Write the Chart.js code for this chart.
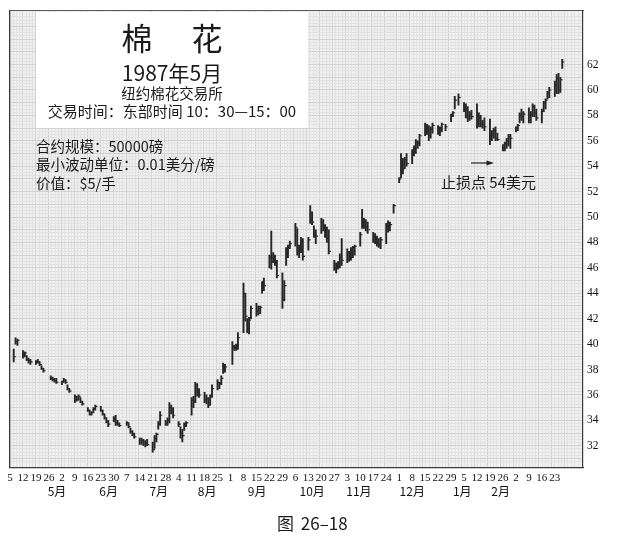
<!DOCTYPE html>
<html>
<head>
<meta charset="utf-8">
<script src="https://cdn.jsdelivr.net/npm/chart.js@4.4.1/dist/chart.umd.min.js"></script>
<style>
html,body{margin:0;padding:0;background:#fff;}
#wrap{position:relative;width:619px;height:536px;overflow:hidden;font-family:"Noto Sans CJK SC","Noto Sans",sans-serif;color:#1a1a1a;}
#wrap canvas{position:absolute;left:0;top:0;}
.ov{position:absolute;white-space:nowrap;line-height:1;}
#titlebox{position:absolute;left:36px;top:12px;width:272px;height:116px;background:#fff;}
.ctr{left:0;width:272px;text-align:center;}
</style>
</head>
<body>
<div id="wrap">
  <canvas id="c" width="619" height="536"></canvas>
  <div id="titlebox">
    <div class="ov ctr" style="top:9px;font-size:31px;letter-spacing:4px;padding-left:4px;box-sizing:border-box;">棉　花</div>
    <div class="ov ctr" style="top:49.5px;font-size:21px;">1987年5月</div>
    <div class="ov ctr" style="top:74px;font-size:14.5px;">纽约棉花交易所</div>
    <div class="ov ctr" style="top:90.5px;font-size:15px;">交易时间：东部时间 10：30—15：00</div>
  </div>
  <div class="ov" style="left:36px;top:138.5px;font-size:14.5px;">合约规模：50000磅</div>
  <div class="ov" style="left:36px;top:157px;font-size:14.5px;">最小波动单位：0.01美分/磅</div>
  <div class="ov" style="left:36px;top:175.5px;font-size:14.5px;">价值：$5/手</div>
  <div class="ov" style="left:441px;top:174px;font-size:15px;">止损点 54美元</div>
  <svg style="position:absolute;left:471px;top:159px;" width="24" height="8" viewBox="0 0 24 8">
    <line x1="0" y1="4" x2="18" y2="4" stroke="#222" stroke-width="1.2"/>
    <polygon points="15.5,1.5 23,4 15.5,6.5" fill="#222"/>
  </svg>
  <div class="ov" style="left:277px;top:514px;font-size:17px;word-spacing:3px;">图 26–18</div>
</div>
<script>
// ---- data (cents per pound), May 1987 cotton contract, daily bars ----
const tradeDates = [
  // May 1986
  '1986-05-07','1986-05-08','1986-05-09','1986-05-12','1986-05-13','1986-05-14','1986-05-15','1986-05-16',
  '1986-05-19','1986-05-20','1986-05-21','1986-05-22','1986-05-23','1986-05-27','1986-05-28','1986-05-29','1986-05-30',
  // Jun
  '1986-06-02','1986-06-03','1986-06-04','1986-06-05','1986-06-06','1986-06-09','1986-06-10','1986-06-11','1986-06-12','1986-06-13',
  '1986-06-16','1986-06-17','1986-06-18','1986-06-19','1986-06-20','1986-06-23','1986-06-24','1986-06-25','1986-06-26','1986-06-27','1986-06-30',
  // Jul
  '1986-07-01','1986-07-02','1986-07-03','1986-07-07','1986-07-08','1986-07-09','1986-07-10','1986-07-11',
  '1986-07-14','1986-07-15','1986-07-16','1986-07-17','1986-07-18','1986-07-21','1986-07-22','1986-07-23','1986-07-24','1986-07-25',
  '1986-07-28','1986-07-29','1986-07-30','1986-07-31',
  // Aug
  '1986-08-01','1986-08-04','1986-08-05','1986-08-06','1986-08-07','1986-08-08','1986-08-11','1986-08-12','1986-08-13','1986-08-14','1986-08-15',
  '1986-08-18','1986-08-19','1986-08-20','1986-08-21','1986-08-22','1986-08-25','1986-08-26','1986-08-27','1986-08-28','1986-08-29',
  // Sep
  '1986-09-02','1986-09-03','1986-09-04','1986-09-05','1986-09-08','1986-09-09','1986-09-10','1986-09-11','1986-09-12',
  '1986-09-15','1986-09-16','1986-09-17','1986-09-18','1986-09-19','1986-09-22','1986-09-23','1986-09-24','1986-09-25','1986-09-26',
  '1986-09-29','1986-09-30',
  // Oct
  '1986-10-01','1986-10-02','1986-10-03','1986-10-06','1986-10-07','1986-10-08','1986-10-09','1986-10-10','1986-10-13','1986-10-14',
  '1986-10-15','1986-10-16','1986-10-17','1986-10-20','1986-10-21','1986-10-22','1986-10-23','1986-10-24','1986-10-27','1986-10-28',
  '1986-10-29','1986-10-30','1986-10-31',
  // Nov
  '1986-11-03','1986-11-04','1986-11-05','1986-11-06','1986-11-07','1986-11-10','1986-11-11','1986-11-12','1986-11-13','1986-11-14',
  '1986-11-17','1986-11-18','1986-11-19','1986-11-20','1986-11-21','1986-11-24','1986-11-25','1986-11-26','1986-11-28',
  // Dec
  '1986-12-01','1986-12-02','1986-12-03','1986-12-04','1986-12-05','1986-12-08','1986-12-09','1986-12-10','1986-12-11','1986-12-12',
  '1986-12-15','1986-12-16','1986-12-17','1986-12-18','1986-12-19','1986-12-22','1986-12-23','1986-12-24','1986-12-26','1986-12-29',
  '1986-12-30','1986-12-31',
  // Jan 1987
  '1987-01-02','1987-01-05','1987-01-06','1987-01-07','1987-01-08','1987-01-09','1987-01-12','1987-01-13','1987-01-14','1987-01-15',
  '1987-01-16','1987-01-19','1987-01-20','1987-01-21','1987-01-22','1987-01-23','1987-01-26','1987-01-27','1987-01-28','1987-01-29','1987-01-30',
  // Feb
  '1987-02-02','1987-02-03','1987-02-04','1987-02-05','1987-02-06','1987-02-09','1987-02-10','1987-02-11','1987-02-12','1987-02-13',
  '1987-02-16','1987-02-17','1987-02-18','1987-02-19','1987-02-20','1987-02-23','1987-02-24','1987-02-25','1987-02-26','1987-02-27'
];
const highs = [
  39.6,40.5,40.4,39.5,39.4,39.1,38.9,38.8,38.7,38.8,38.6,38.3,38.1,37.5,37.4,37.3,37.3,
  37.1,37.3,37.2,36.8,36.5,36.0,35.9,36.0,35.8,35.5,35.0,34.8,34.7,35.0,35.2,35.1,34.8,34.5,34.2,34.0,34.3,
  34.4,34.0,33.8,33.9,33.8,33.4,33.2,33.0,32.6,32.6,32.5,32.4,32.5,32.3,32.8,33.0,33.9,34.7,34.0,34.2,35.4,35.2,
  35.0,33.9,33.5,33.3,33.8,33.9,35.8,35.9,37.0,36.9,36.5,36.2,36.0,35.8,36.0,36.8,37.2,37.0,37.5,38.5,38.4,
  40.2,39.9,40.0,40.9,44.8,44.0,42.0,42.1,43.0,43.2,43.0,43.0,44.9,45.2,47.0,48.9,47.2,47.0,46.6,45.6,45.0,
  47.6,47.8,48.1,49.5,49.1,47.8,48.4,48.3,48.4,50.9,50.4,49.3,49.0,49.9,49.8,49.4,49.2,49.0,46.6,46.4,46.5,47.1,48.3,
  47.5,47.3,47.6,47.7,47.8,48.8,50.6,49.9,49.8,49.6,48.8,48.7,48.5,48.3,48.4,49.5,49.7,49.6,51.0,
  53.1,55.0,54.6,54.7,55.0,55.3,55.6,56.1,56.0,56.5,57.4,57.3,57.2,57.1,57.4,57.2,57.1,57.4,57.3,58.1,58.3,59.5,
  59.7,59.0,58.9,58.7,58.3,58.4,58.9,58.2,58.0,57.6,57.8,57.7,56.8,57.0,57.1,56.6,55.7,55.9,56.2,56.5,56.5,
  57.1,57.3,58.2,58.5,58.3,58.6,58.3,58.9,58.8,58.5,58.5,59.1,59.3,59.9,60.2,60.7,61.2,61.3,61.0,62.4
];
const lows = [
  38.6,40.0,39.9,38.9,39.0,38.7,38.5,38.4,38.4,38.5,38.3,38.0,37.8,37.2,37.1,37.0,36.9,
  36.8,37.0,36.9,36.4,36.2,35.4,35.5,35.6,35.4,35.2,34.7,34.4,34.4,34.6,34.8,34.7,34.4,34.1,33.8,33.5,33.9,
  33.6,33.6,33.5,33.6,33.4,33.0,32.8,32.6,32.1,32.1,32.0,31.9,32.0,31.5,31.8,32.3,33.3,33.6,33.6,33.6,33.8,34.5,
  34.2,33.5,32.6,32.3,33.2,33.5,34.4,35.0,35.4,35.9,35.8,35.4,35.3,35.0,35.2,35.8,36.4,36.5,36.8,37.7,37.8,
  38.4,39.5,39.5,39.6,40.9,41.8,40.9,40.8,42.0,42.2,42.3,42.4,44.0,44.2,46.0,45.9,46.4,46.2,45.2,42.8,43.4,
  46.2,46.8,47.5,47.7,47.0,46.8,47.2,46.6,47.4,49.5,49.4,48.4,47.9,48.7,48.9,48.4,48.0,47.1,45.8,45.6,45.9,46.0,46.2,
  46.4,46.5,46.6,46.8,47.0,47.7,49.1,49.1,48.9,48.7,48.0,47.9,47.7,47.6,47.5,47.9,48.8,48.9,50.3,
  52.7,53.1,53.4,53.8,54.0,54.2,54.8,55.0,55.4,55.6,56.4,56.5,56.0,56.2,56.6,56.5,56.4,56.7,56.8,57.5,57.9,58.5,
  58.8,58.3,57.8,57.5,57.6,57.7,57.0,57.1,57.1,57.0,56.8,55.7,56.0,56.2,56.0,56.0,55.2,55.2,55.4,55.6,55.4,
  56.7,56.8,57.4,57.6,57.4,57.4,57.4,57.9,57.9,57.6,57.4,58.3,58.5,59.3,59.4,59.5,59.7,59.7,59.8,61.7
];
const closes = [
  39.0,40.2,40.3,39.2,39.3,38.8,38.7,38.6,38.6,38.6,38.4,38.1,37.9,37.3,37.2,37.1,37.0,
  37.0,37.2,37.0,36.5,36.3,35.9,35.6,35.9,35.5,35.3,34.8,34.5,34.6,34.9,35.1,34.8,34.5,34.2,33.9,33.7,34.1,
  33.8,33.7,33.6,33.8,33.5,33.1,32.9,32.7,32.3,32.4,32.3,32.2,32.1,31.7,32.6,32.9,33.7,34.4,33.7,34.0,35.0,34.7,
  34.4,33.7,33.0,32.8,33.6,33.8,35.6,35.5,36.8,36.2,36.0,35.6,35.7,35.2,35.9,36.5,37.0,36.9,37.3,38.3,38.2,
  39.8,39.7,39.6,40.5,44.0,42.2,41.2,41.9,42.8,42.6,42.8,42.9,44.9,44.6,46.8,46.5,46.9,46.4,45.4,43.5,44.6,
  47.3,47.6,47.9,49.2,47.3,47.5,48.1,46.9,48.2,49.8,49.6,48.6,48.5,49.6,49.2,48.6,48.3,47.3,46.0,46.1,46.3,46.8,46.6,
  47.2,46.8,47.4,47.6,47.7,48.6,49.4,49.6,49.2,49.0,48.4,48.2,48.0,47.8,48.2,49.3,49.5,49.4,50.9,
  53.0,54.6,53.8,54.5,54.2,55.1,55.4,55.9,55.8,56.4,57.1,56.8,56.4,56.9,57.2,56.8,57.0,57.3,57.1,58.0,58.2,59.2,
  59.4,58.5,58.0,57.8,58.1,57.9,57.4,57.8,57.3,57.3,57.1,56.2,56.5,56.8,56.2,56.1,55.4,55.8,56.0,56.3,56.2,
  57.0,57.2,58.0,57.9,58.1,57.6,58.1,58.7,58.2,57.8,58.3,59.0,59.2,59.8,60.0,60.4,60.9,60.0,60.8,62.2
];
// weekly (Monday) tick labels starting 1986-05-05
const weekLabels = ['5','12','19','26','2','9','16','23','30','7','14','21','28','4','11','18','25',
  '1','8','15','22','29','6','13','20','27','3','10','17','24','1','8','15','22','29','5','12','19','26','2','9','16','23'];
const monthLabels = ['5月','6月','7月','8月','9月','10月','11月','12月','1月','2月'];
const monthLabelDates = ['1986-05-16','1986-06-16','1986-07-16','1986-08-14','1986-09-13','1986-10-16','1986-11-13','1986-12-15','1987-01-14','1987-02-06'];
const yTickValues = [32,34,36,38,40,42,44,46,48,50,52,54,56,58,60,62];

// ---- helpers ----
const START = Date.UTC(1986, 4, 5);
const dayOf = s => (Date.parse(s + 'T00:00:00Z') - START) / 86400000;
const X_MIN = 0, X_MAX = 309.2, Y_MIN = 30.29, Y_MAX = 66.22;
if (!(tradeDates.length === highs.length && highs.length === lows.length && lows.length === closes.length)) {
  console.error('length mismatch', tradeDates.length, highs.length, lows.length, closes.length);
}
const barPts = tradeDates.map((d, i) => ({x: dayOf(d), y: [lows[i], highs[i]]}));
const closePts = tradeDates.map((d, i) => ({x: dayOf(d), y: closes[i]}));

const INK = '#262626';
const isMult = (v, m) => Math.abs(v / m - Math.round(v / m)) < 1e-6;

const plotBg = {
  id: 'plotBg',
  beforeDraw(chart) {
    const {ctx, chartArea: a} = chart;
    ctx.save();
    ctx.fillStyle = '#f0f0f0';
    ctx.fillRect(a.left, a.top, a.right - a.left, a.bottom - a.top);
    ctx.restore();
  }
};

new Chart(document.getElementById('c'), {
  type: 'bar',
  data: {
    datasets: [
      { type: 'bar', data: barPts, backgroundColor: INK, borderWidth: 0, barThickness: 1.25,
        xAxisID: 'x', yAxisID: 'y', order: 2 },
      { type: 'scatter', data: closePts, pointStyle: 'dash', pointRadius: 2.2, borderWidth: 1.1,
        borderColor: INK, backgroundColor: INK, xAxisID: 'x', yAxisID: 'y', order: 1 }
    ]
  },
  options: {
    responsive: false,
    animation: false,
    events: [],
    layout: { padding: { left: 10, top: 9.5, right: 0, bottom: 30.5 } },
    plugins: { legend: { display: false }, tooltip: { enabled: false } },
    scales: {
      x: {
        type: 'linear', position: 'bottom', min: X_MIN, max: X_MAX, offset: false, weight: 0,
        grid: { display: false, drawTicks: false, offset: false },
        border: { display: true, color: '#3a3a3a', width: 1.2 },
        afterBuildTicks: ax => { ax.ticks = weekLabels.map((_, i) => ({ value: i * 7 })); },
        afterFit: ax => { ax.height = 18; },
        ticks: { autoSkip: false, maxRotation: 0, minRotation: 0, padding: 4, color: '#111',
          font: { family: '"Liberation Serif", serif', size: 11 },
          callback: (v, i) => weekLabels[i] }
      },
      xm: {
        type: 'linear', position: 'bottom', min: X_MIN, max: X_MAX, weight: 1,
        grid: { display: false, drawTicks: false },
        border: { display: false },
        afterBuildTicks: ax => { ax.ticks = monthLabelDates.map(d => ({ value: dayOf(d) })); },
        afterFit: ax => { ax.height = 20; },
        ticks: { autoSkip: false, maxRotation: 0, minRotation: 0, padding: -1, color: '#111',
          font: { family: '"Noto Sans CJK SC", sans-serif', size: 12 },
          callback: (v, i) => monthLabels[i] }
      },
      xg: {
        type: 'linear', position: 'top', min: X_MIN, max: X_MAX,
        ticks: { display: false, stepSize: 1.75 },
        grid: { drawTicks: false, lineWidth: 1,
          color: c => (c.tick && isMult(c.tick.value, 7)) ? '#d2d2d2' : '#e2e2e2' },
        border: { display: true, color: '#5a5a5a', width: 1 },
        afterFit: ax => { ax.height = 0; }
      },
      y: {
        type: 'linear', position: 'right', min: Y_MIN, max: Y_MAX,
        grid: { display: false, drawTicks: false },
        border: { display: true, color: '#3a3a3a', width: 1.2 },
        afterBuildTicks: ax => { ax.ticks = yTickValues.map(v => ({ value: v })); },
        afterFit: ax => { ax.width = 36; },
        ticks: { padding: 4, color: '#111', font: { family: '"Liberation Serif", serif', size: 11.5 },
          callback: v => String(v) }
      },
      yg: {
        type: 'linear', position: 'left', min: Y_MIN, max: Y_MAX,
        ticks: { display: false, stepSize: 0.25 },
        grid: { drawTicks: false, lineWidth: 1,
          color: c => (c.tick && isMult(c.tick.value, 1)) ? '#d2d2d2' : '#e2e2e2' },
        border: { display: true, color: '#3a3a3a', width: 1.2 },
        afterFit: ax => { ax.width = 0; }
      }
    }
  },
  plugins: [plotBg]
});
</script>
</body>
</html>
